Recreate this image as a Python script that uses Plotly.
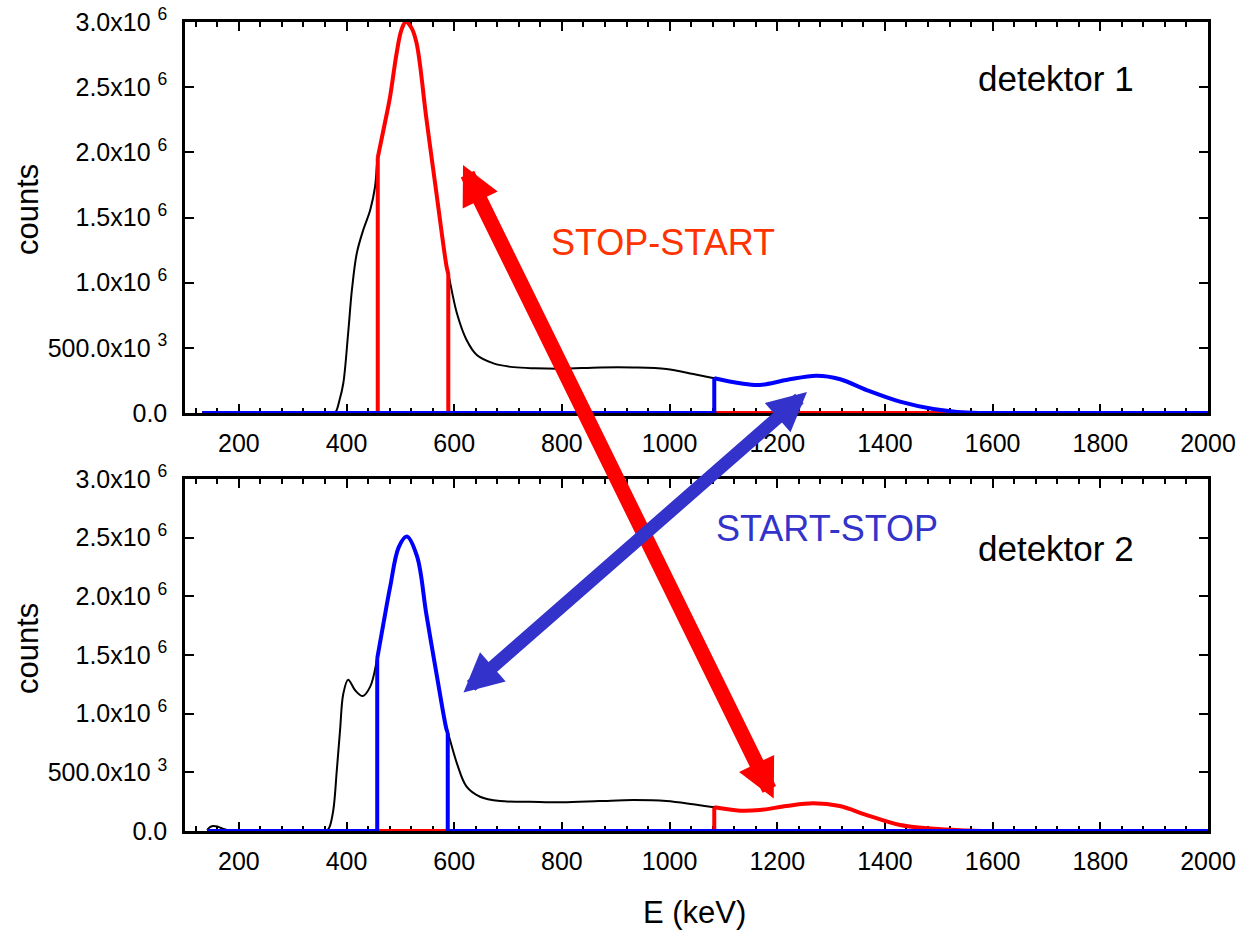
import plotly.graph_objects as go

# ---------------- data ----------------
# detektor 1 : total spectrum (black)
E1_total = [132, 300, 370, 379, 387, 394, 403, 410, 419, 431, 444, 453, 458, 470, 481, 493, 502,
            510, 520, 530, 548, 567, 586, 589, 605, 623, 642, 673, 710, 750, 800, 871, 932, 994,
            1044, 1083, 1131, 1168, 1217, 1273, 1317, 1366, 1428, 1490, 1552, 1575, 2000]
C1_total = [0, 0, 0, 5e3, 100e3, 228e3, 612e3, 944e3, 1.225e6, 1.404e6, 1.558e6, 1.736e6, 1.96e6,
            2.2e6, 2.43e6, 2.76e6, 2.94e6, 3.0e6, 2.96e6, 2.84e6, 2.27e6, 1.686e6, 1.12e6, 1.07e6,
            765e3, 560e3, 445e3, 381e3, 352e3, 343e3, 340e3, 350e3, 350e3, 338e3, 299e3, 266e3,
            228e3, 215e3, 253e3, 286e3, 259e3, 176e3, 87e3, 31e3, 3e3, 0, 0]
# detektor 1 : gated windows
E1_red = [458, 470, 481, 493, 502, 510, 520, 530, 548, 567, 586, 589]
C1_red = [1.96e6, 2.2e6, 2.43e6, 2.76e6, 2.94e6, 3.0e6, 2.96e6, 2.84e6, 2.27e6, 1.686e6, 1.12e6, 1.07e6]
E1_blue = [1083, 1131, 1168, 1217, 1273, 1317, 1366, 1428, 1490, 1552, 1575]
C1_blue = [266e3, 228e3, 215e3, 253e3, 286e3, 259e3, 176e3, 87e3, 31e3, 3e3, 0]

# detektor 2 : total spectrum (black)
E2_total = [141, 147, 153, 160, 170, 182, 195, 300, 362, 368, 375.5, 382, 388, 394, 403, 416, 430,
            444, 457, 469, 481, 497, 512, 531, 548, 567, 586, 588, 605, 623, 648, 685, 740, 800,
            870, 932, 994, 1044, 1083, 1131, 1168, 1217, 1267, 1316, 1366, 1428, 1490, 1552, 1580, 2000]
C2_total = [10e3, 35e3, 43e3, 38e3, 20e3, 5e3, 0, 0, 0, 30e3, 179e3, 520e3, 861e3, 1.17e6, 1.29e6,
            1.20e6, 1.15e6, 1.23e6, 1.47e6, 1.78e6, 2.08e6, 2.42e6, 2.51e6, 2.34e6, 1.855e6,
            1.344e6, 0.861e6, 0.84e6, 577e3, 378e3, 292e3, 255e3, 250e3, 245e3, 255e3, 264e3,
            256e3, 228e3, 202e3, 173e3, 179e3, 213e3, 236e3, 213e3, 136e3, 51e3, 20e3, 5e3, 0, 0]
# detektor 2 : gated windows
E2_blue = [457, 469, 481, 497, 512, 531, 548, 567, 586, 588]
C2_blue = [1.47e6, 1.78e6, 2.08e6, 2.42e6, 2.51e6, 2.34e6, 1.855e6, 1.344e6, 0.861e6, 0.84e6]
E2_red = [1083, 1131, 1168, 1217, 1267, 1316, 1366, 1428, 1490, 1552, 1580]
C2_red = [202e3, 173e3, 179e3, 213e3, 236e3, 213e3, 136e3, 51e3, 20e3, 5e3, 0]

E_START = [132, 141]  # where the gated spectra start (top, bottom)
E_END = 2000

y_tickvals = [0, 0.5e6, 1.0e6, 1.5e6, 2.0e6, 2.5e6, 3.0e6]
y_ticktext = ["0.0", "500.0x10 <sup>3</sup>", "1.0x10 <sup>6</sup>", "1.5x10 <sup>6</sup>",
              "2.0x10 <sup>6</sup>", "2.5x10 <sup>6</sup>", "3.0x10 <sup>6</sup>"]

RED = "#FF0000"
BLUE = "#0000FF"
FONT = "Arial, 'Liberation Sans', sans-serif"

fig = go.Figure()


def add_window(E, C, start, color, xa, ya):
    # curve inside the window
    fig.add_trace(go.Scatter(x=E, y=C, mode="lines", line=dict(color=color, width=4, shape="spline"),
                             xaxis=xa, yaxis=ya, cliponaxis=False, showlegend=False, hoverinfo="skip"))
    # zero line outside and vertical window edges
    fig.add_trace(go.Scatter(x=[start, E[0], E[0], None, E[-1], E[-1], E_END],
                             y=[0, 0, C[0], None, C[-1], 0, 0],
                             mode="lines", line=dict(color=color, width=4),
                             xaxis=xa, yaxis=ya, cliponaxis=False, showlegend=False, hoverinfo="skip"))


# top panel
fig.add_trace(go.Scatter(x=E1_total, y=C1_total, mode="lines",
                         line=dict(color="black", width=2, shape="spline"),
                         xaxis="x", yaxis="y", cliponaxis=False, showlegend=False))
add_window(E1_red, C1_red, E_START[0], RED, "x", "y")
add_window(E1_blue, C1_blue, E_START[0], BLUE, "x", "y")

# bottom panel
fig.add_trace(go.Scatter(x=E2_total, y=C2_total, mode="lines",
                         line=dict(color="black", width=2, shape="spline"),
                         xaxis="x2", yaxis="y2", cliponaxis=False, showlegend=False))
add_window(E2_red, C2_red, E_START[1], RED, "x2", "y2")
add_window(E2_blue, C2_blue, E_START[1], BLUE, "x2", "y2")

W, H = 1238, 936
ML, MR, MT, MB = 185, 30, 22, 105
PW, PH = W - ML - MR, H - MT - MB


def px(x, y):
    return (x - ML) / PW, (H - MB - y) / PH


common = dict(showline=True, linecolor="black", linewidth=2.5, mirror="ticks", ticks="inside",
              tickcolor="black", tickwidth=2, ticklen=9, layer="below traces", showgrid=False,
              zeroline=False, automargin=False,
              tickfont=dict(family=FONT, size=25, color="black"))
xcommon = dict(common, range=[100, 2000], tickmode="linear", tick0=0, dtick=200,
               ticklabelstandoff=6,
               minor=dict(tickmode="linear", tick0=0, dtick=40, ticks="inside", ticklen=5,
                          tickwidth=2, tickcolor="black", showgrid=False))
ycommon = dict(common, range=[0, 3.0e6], tickmode="array", tickvals=y_tickvals,
               ticktext=y_ticktext, ticklabelstandoff=10)

top_lo = (H - MB - 413) / PH
bot_hi = (H - MB - 479) / PH

fig.update_layout(
    width=W, height=H, margin=dict(l=ML, r=MR, t=MT, b=MB, autoexpand=False),
    paper_bgcolor="white", plot_bgcolor="white", showlegend=False,
    font=dict(family=FONT, color="black"),
    xaxis=dict(xcommon, domain=[0, 1], anchor="y"),
    yaxis=dict(ycommon, domain=[top_lo, 1], anchor="x"),
    xaxis2=dict(xcommon, domain=[0, 1], anchor="y2"),
    yaxis2=dict(ycommon, domain=[0, bot_hi], anchor="x2"),
)

ann = []


def text_ann(x, y, text, size, color="black", angle=0):
    X, Y = px(x, y)
    ann.append(dict(x=X, y=Y, xref="paper", yref="paper", text=text, showarrow=False,
                    xanchor="center", yanchor="middle", textangle=angle,
                    font=dict(family=FONT, size=size, color=color)))


text_ann(27, 210, "counts", 31, angle=-90)
text_ann(27, 649, "counts", 31, angle=-90)
text_ann(694, 912, "E (keV)", 31)
text_ann(1056, 78, "detektor 1", 35)
text_ann(1056, 548, "detektor 2", 35)
text_ann(663, 242, "STOP-START", 36, color="#FF3300")
text_ann(827, 528, "START-STOP", 36, color="#3333CC")


def arrow(head, tail, color, width, size):
    X, Y = px(*head)
    ann.append(dict(x=X, y=Y, xref="paper", yref="paper", text="", showarrow=True,
                    axref="pixel", ayref="pixel", ax=tail[0] - head[0], ay=tail[1] - head[1],
                    arrowhead=2, startarrowhead=2, arrowside="end+start",
                    arrowwidth=width, arrowsize=size, startarrowsize=size,
                    arrowcolor=color, standoff=0, startstandoff=0, borderpad=0))


arrow((463, 165), (774, 799), "#FF0000", 15, 0.52)
arrow((807, 392), (463, 693), "#3333CC", 13, 0.6)

fig.update_layout(annotations=ann)
fig.write_html("out.html")
